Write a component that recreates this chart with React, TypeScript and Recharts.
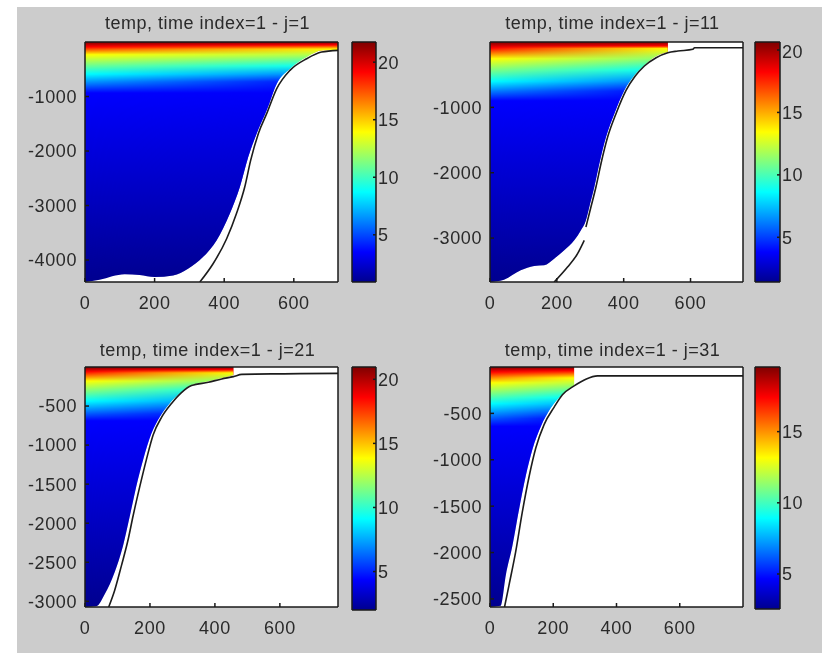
import { Area, CartesianGrid, ComposedChart, Label, Line, XAxis, YAxis } from 'recharts';

// colours of the jet map at the depth stops below (surface to bottom)
const jetColors = ['#800000', '#ff0000', '#ffff00', '#00ffff', '#0000ff', '#00008f'];

const titles = ['temp, time index=1 - j=1', 'temp, time index=1 - j=11', 'temp, time index=1 - j=21', 'temp, time index=1 - j=31'];
const xMax = [727, 757, 779, 800];
const yMin = [-4403, -3672, -3073, -2587];
const xTicks = [0, 200, 400, 600];
const yTicks = [
  [-4000, -3000, -2000, -1000],
  [-3000, -2000, -1000],
  [-3000, -2500, -2000, -1500, -1000, -500],
  [-2500, -2000, -1500, -1000, -500],
];

// colourbar limits
const barMin = [0.9, 1.42, 2.0, 2.54];
const barMax = [21.75, 20.64, 20.96, 19.54];
const barTicks = [
  [5, 10, 15, 20],
  [5, 10, 15, 20],
  [5, 10, 15, 20],
  [5, 10, 15],
];

// depth of red, yellow, cyan and blue at the left side and at the right end of the coloured part
const leftStops = [
  [90, 233, 587, 936],
  [92, 255, 600, 900],
  [60, 180, 435, 690],
  [54, 170, 395, 640],
];
const rightStops = [
  [55, 130, 440, 730],
  [60, 100, 430, 750],
  [35, 75, 295, 600],
  [40, 118, 330, 555],
];

// lower edge of the coloured section
const edgeX1 = [0, 42, 114, 157, 200, 253, 296, 339, 378, 416, 445, 469, 493, 522, 551, 589, 637, 685, 727];
const edgeD1 = [-4403, -4361, -4263, -4276, -4312, -4282, -4160, -3945, -3640, -3150, -2660, -2110, -1682, -1254, -765, -489, -275, -153, -153];
const edgeX2 = [0, 42, 92, 132, 162, 192, 222, 252, 272, 287, 297, 312, 327, 347, 372, 402, 432, 462, 492, 532];
const edgeD2 = [-3672, -3636, -3494, -3427, -3417, -3315, -3188, -3035, -2882, -2729, -2525, -2219, -1862, -1454, -1097, -740, -510, -357, -230, -153];
const edgeX3 = [0, 35, 61, 91, 117, 138, 158, 179, 205, 231, 261, 292, 323, 375, 416, 457];
const edgeD3 = [-3073, -3064, -2907, -2631, -2291, -1908, -1526, -1186, -846, -633, -463, -336, -238, -187, -144, -102];
const edgeX4 = [0, 34, 50, 71, 92, 113, 134, 161, 192, 224, 266];
const edgeD4 = [-2587, -2574, -2245, -1924, -1532, -1175, -889, -639, -443, -311, -193];

// bathymetry line, null leaves the gap in the second panel
const lineX1 = [330, 368, 407, 435, 459, 476, 498, 522, 551, 589, 637, 680, 727];
const lineD1 = [-4403, -4068, -3609, -3150, -2660, -2172, -1682, -1315, -856, -520, -306, -184, -153];
const lineX2 = [192, 232, 262, 282, 285, 287, 302, 317, 332, 352, 377, 407, 434, 462, 497, 532, 562, 607, 612, 757];
const lineD2 = [-3672, -3443, -3239, -3035, null, -2831, -2525, -2219, -1862, -1454, -1097, -740, -525, -367, -240, -163, -138, -112, -87, -87];
const lineX3 = [73, 91, 112, 133, 148, 169, 189, 210, 236, 267, 297, 328, 380, 421, 457, 483, 779];
const lineD3 = [-3073, -2865, -2546, -2206, -1908, -1526, -1186, -867, -642, -463, -327, -238, -196, -153, -123, -94, -81];
const lineX4 = [46, 60, 81, 102, 124, 145, 171, 203, 229, 266, 303, 340, 800];
const lineD4 = [-2587, -2353, -1996, -1567, -1175, -871, -621, -432, -300, -204, -132, -96, -96];

const edgeXs = [edgeX1, edgeX2, edgeX3, edgeX4];
const edgeDs = [edgeD1, edgeD2, edgeD3, edgeD4];
const lineXs = [lineX1, lineX2, lineX3, lineX4];
const lineDs = [lineD1, lineD2, lineD3, lineD4];

const plotLeft = [85, 490, 85, 490];
const plotTop = [42, 42, 367, 367];
const barLeft = [352, 755, 352, 755];
const barWidth = [24, 25, 24, 25];
const barHeight = [240, 240, 243, 242];
const titleOffset = [12, 12, 10, 10];

const textStyle = { fontFamily: '"Liberation Sans", Arial, sans-serif', fontSize: 18, letterSpacing: 0.6, fill: '#2a2a2a' };
const axisLine = { stroke: '#1a1a1a', strokeWidth: 1.5 };

function Stops({ depths, bottom }: { depths: number[]; bottom: number }) {
  const all = [0, ...depths, -bottom];
  return (
    <>
      {all.map((d, i) => (
        <stop key={i} offset={d / -bottom} stopColor={jetColors[i]} />
      ))}
    </>
  );
}

function Panel({ i }: { i: number }) {
  const edgeRows = edgeXs[i].map((x, k) => ({ x, depth: edgeDs[i][k] }));
  const lineRows = lineXs[i].map((x, k) => ({ x, depth: lineDs[i][k] }));
  const width = 253;
  const height = 240;
  return (
    <div style={{ position: 'absolute', left: plotLeft[i] - 70, top: plotTop[i] - 40 }}>
      <ComposedChart width={70 + width + 6} height={40 + height + 34} margin={{ top: 39, right: 5, bottom: 4, left: 0 }}>
        <defs>
          <linearGradient id={`left${i}`} x1="0" y1="0" x2="0" y2="1">
            <Stops depths={leftStops[i]} bottom={yMin[i]} />
          </linearGradient>
          <linearGradient id={`right${i}`} x1="0" y1="0" x2="0" y2="1">
            <Stops depths={rightStops[i]} bottom={yMin[i]} />
          </linearGradient>
          <linearGradient id={`fade${i}`} x1="0" y1="0" x2="1" y2="0">
            <stop offset="0" stopColor="#000" />
            <stop offset="1" stopColor="#fff" />
          </linearGradient>
          <mask id={`mask${i}`} maskContentUnits="objectBoundingBox">
            <rect x="0" y="0" width="1" height="1" fill={`url(#fade${i})`} />
          </mask>
        </defs>
        <CartesianGrid horizontal={false} vertical={false} fill="#ffffff" fillOpacity={1} />
        <Area xAxisId="b" yAxisId="l" data={edgeRows} dataKey="depth" baseValue={0} type="monotoneX" stroke="none" fill={`url(#left${i})`} fillOpacity={1} isAnimationActive={false} dot={false} activeDot={false} />
        <Area xAxisId="b" yAxisId="l" data={edgeRows} dataKey="depth" baseValue={0} type="monotoneX" stroke="none" fill={`url(#right${i})`} fillOpacity={1} mask={`url(#mask${i})`} isAnimationActive={false} dot={false} activeDot={false} />
        <Line xAxisId="b" yAxisId="l" data={lineRows} dataKey="depth" type="monotoneX" stroke="#1c1c1c" strokeWidth={1.6} dot={false} activeDot={false} isAnimationActive={false} />
        <XAxis xAxisId="b" type="number" dataKey="x" domain={[0, xMax[i]]} ticks={xTicks} height={30} tickSize={-4} tickMargin={18} tick={textStyle} axisLine={axisLine} tickLine={axisLine} allowDataOverflow />
        <XAxis xAxisId="t" type="number" dataKey="x" orientation="top" domain={[0, xMax[i]]} ticks={xTicks} height={1} tickSize={-3} tick={false} axisLine={axisLine} tickLine={axisLine} allowDataOverflow>
          <Label value={titles[i]} position="top" offset={titleOffset[i]} dx={-4} style={{ ...textStyle, letterSpacing: 0.5 }} />
        </XAxis>
        <YAxis yAxisId="l" type="number" domain={[yMin[i], 0]} ticks={yTicks[i]} width={70} tickSize={-4} tickMargin={12} tick={textStyle} axisLine={axisLine} tickLine={axisLine} allowDataOverflow />
        <YAxis yAxisId="r" type="number" orientation="right" domain={[yMin[i], 0]} ticks={yTicks[i]} width={1} tickSize={-4} tick={false} axisLine={axisLine} tickLine={axisLine} allowDataOverflow />
      </ComposedChart>
    </div>
  );
}

function ColorBar({ i }: { i: number }) {
  const rows = [
    { x: 0, top: barMax[i] },
    { x: 1, top: barMax[i] },
  ];
  return (
    <div style={{ position: 'absolute', left: barLeft[i] - 1, top: plotTop[i] - 1 }}>
      <ComposedChart width={barWidth[i] + 41} height={barHeight[i] + 6} margin={{ top: 0, right: 0, bottom: 4, left: 0 }} data={rows}>
        <defs>
          <linearGradient id={`bar${i}`} x1="0" y1="0" x2="0" y2="1">
            <stop offset="0" stopColor="#7f0000" />
            <stop offset="0.125" stopColor="#ff0000" />
            <stop offset="0.375" stopColor="#ffff00" />
            <stop offset="0.625" stopColor="#00ffff" />
            <stop offset="0.875" stopColor="#0000ff" />
            <stop offset="1" stopColor="#00008f" />
          </linearGradient>
        </defs>
        <Area xAxisId="b" yAxisId="l" dataKey="top" baseValue={barMin[i]} type="linear" stroke="none" fill={`url(#bar${i})`} fillOpacity={1} isAnimationActive={false} dot={false} activeDot={false} />
        <XAxis xAxisId="b" type="number" dataKey="x" domain={[0, 1]} ticks={[0, 1]} height={1} tick={false} axisLine={axisLine} tickLine={false} />
        <XAxis xAxisId="t" type="number" dataKey="x" orientation="top" domain={[0, 1]} ticks={[0, 1]} height={1} tick={false} axisLine={axisLine} tickLine={false} />
        <YAxis yAxisId="l" type="number" domain={[barMin[i], barMax[i]]} ticks={barTicks[i]} width={1} tick={false} axisLine={axisLine} tickLine={false} allowDataOverflow />
        <YAxis yAxisId="r" type="number" orientation="right" domain={[barMin[i], barMax[i]]} ticks={barTicks[i]} width={40} tickSize={-3} tickMargin={5} tick={{ ...textStyle, textAnchor: 'start' }} axisLine={axisLine} tickLine={axisLine} allowDataOverflow />
      </ComposedChart>
    </div>
  );
}

export default function App() {
  return (
    <div style={{ position: 'absolute', left: 0, top: 0, width: 822, height: 655, background: '#fff', overflow: 'hidden' }}>
      <div style={{ position: 'absolute', left: 17, top: 7, width: 805, height: 646, background: '#cccccc' }} />
      <div style={{ filter: 'blur(0.45px)' }}>
        {titles.map((_, i) => (
          <Panel key={i} i={i} />
        ))}
        {titles.map((_, i) => (
          <ColorBar key={i} i={i} />
        ))}
      </div>
    </div>
  );
}
